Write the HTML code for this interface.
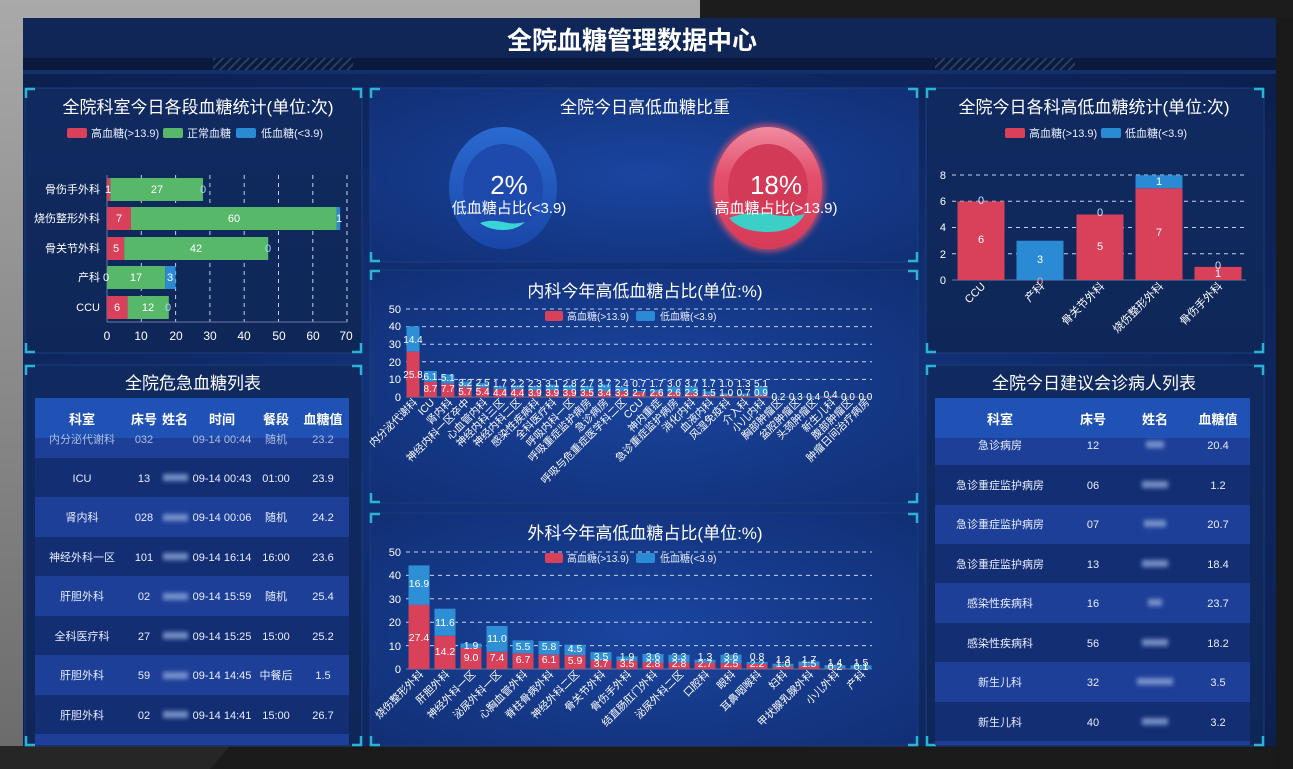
<!DOCTYPE html>
<html><head><meta charset="utf-8"><style>
html,body{margin:0;padding:0;background:#222;}
svg{display:block;font-family:"Liberation Sans","Noto Sans CJK SC",sans-serif;}
</style></head><body>
<svg width="1293" height="769" viewBox="0 0 1293 769" xmlns="http://www.w3.org/2000/svg">
<defs>
<linearGradient id="frame" x1="0" y1="0" x2="0" y2="1"><stop offset="0" stop-color="#a9a9a9"/><stop offset="1" stop-color="#6a6a6a"/></linearGradient>
<radialGradient id="scr" cx="0.5" cy="0.55" r="0.7"><stop offset="0" stop-color="#14388a"/><stop offset="1" stop-color="#0c1f4c"/></radialGradient>
<linearGradient id="pan" x1="0" y1="0" x2="0" y2="1"><stop offset="0" stop-color="#102a60"/><stop offset="1" stop-color="#0f2758"/></linearGradient>
<radialGradient id="mid" cx="0.5" cy="0.5" r="0.7"><stop offset="0" stop-color="#1a45a0"/><stop offset="1" stop-color="#112f74"/></radialGradient>
<linearGradient id="bdon" x1="0" y1="0" x2="0" y2="1"><stop offset="0" stop-color="#2a6ad0"/><stop offset="1" stop-color="#1a46a8"/></linearGradient>
<linearGradient id="rdon" x1="0" y1="0" x2="0" y2="1"><stop offset="0" stop-color="#f08aa0"/><stop offset="0.4" stop-color="#e3506c"/><stop offset="1" stop-color="#d63a58"/></linearGradient>
<filter id="bl"><feGaussianBlur stdDeviation="2"/></filter>
<filter id="gl"><feGaussianBlur stdDeviation="3"/></filter>
<pattern id="hatch" width="6" height="6" patternUnits="userSpaceOnUse" patternTransform="rotate(45)"><rect width="2" height="6" fill="#2a3d66"/></pattern>
</defs>
<!-- frame -->
<rect width="1293" height="769" fill="url(#frame)"/>
<rect x="0" y="746" width="1293" height="23" fill="#262626"/>
<polygon points="210,769 230,746 1293,746 1293,769" fill="#1b1b1b"/>
<rect x="1276" y="14" width="17" height="755" fill="#1a1a1a"/>
<rect x="700" y="0" width="593" height="18" fill="#1c1c1c"/>
<!-- screen -->
<rect x="23" y="18" width="1253" height="728" fill="url(#scr)"/>
<rect x="23" y="18" width="1253" height="40" fill="#0f2656"/>
<rect x="23" y="58" width="1253" height="14" fill="#0b1a3c"/>
<rect x="213" y="58" width="140" height="12" fill="url(#hatch)"/>
<rect x="935" y="58" width="140" height="12" fill="url(#hatch)"/>
<rect x="23" y="70" width="1253" height="4" fill="#12306a"/>
<text x="632" y="49" text-anchor="middle" font-size="25" font-weight="bold" fill="#fff">全院血糖管理数据中心</text>

<!-- panels -->
<g stroke="#1b3d7e" stroke-width="1">
<rect x="25" y="88" width="337" height="265" fill="url(#pan)"/>
<rect x="25" y="365" width="337" height="381" fill="url(#pan)"/>
<rect x="370" y="88" width="548" height="174" fill="url(#mid)"/>
<rect x="370" y="270" width="548" height="233" fill="url(#mid)"/>
<rect x="370" y="513" width="548" height="233" fill="url(#mid)"/>
<rect x="926" y="88" width="338" height="265" fill="url(#pan)"/>
<rect x="926" y="365" width="338" height="381" fill="url(#pan)"/>
</g>
<!-- corner brackets -->
<g stroke="#2ab3d3" stroke-width="2.5" fill="none">
<path d="M26,98 V89 H35 M352,89 H361 V98 M26,343 V352 H35 M352,352 H361 V343"/>
<path d="M26,375 V366 H35 M352,366 H361 V375 M26,736 V745 H35 M352,745 H361 V736"/>
<path d="M371,98 V89 H380 M908,89 H917 V98 M371,252 V261 H380 M908,261 H917 V252"/>
<path d="M371,280 V271 H380 M908,271 H917 V280 M371,493 V502 H380 M908,502 H917 V493"/>
<path d="M371,523 V514 H380 M908,514 H917 V523 M371,736 V745 H380 M908,745 H917 V736"/>
<path d="M927,98 V89 H936 M1254,89 H1263 V98 M927,343 V352 H936 M1254,352 H1263 V343"/>
<path d="M927,375 V366 H936 M1254,366 H1263 V375 M927,736 V745 H936 M1254,745 H1263 V736"/>
</g>

<!-- LEFT CHART 1 -->
<text x="198" y="113" text-anchor="middle" font-size="17" fill="#fff">全院科室今日各段血糖统计(单位:次)</text>
<g font-size="11" fill="#e8eefc">
<rect x="67" y="128" width="20" height="10" rx="2" fill="#d9405a"/><text x="91" y="137">高血糖(&gt;13.9)</text>
<rect x="163" y="128" width="20" height="10" rx="2" fill="#58b86a"/><text x="187" y="137">正常血糖</text>
<rect x="236" y="128" width="20" height="10" rx="2" fill="#2a8ad4"/><text x="261" y="137">低血糖(&lt;3.9)</text>
</g>
<g stroke="#c8d2ea" stroke-dasharray="4,4" stroke-width="1">
<line x1="141.3" y1="175" x2="141.3" y2="322"/><line x1="175.6" y1="175" x2="175.6" y2="322"/><line x1="209.9" y1="175" x2="209.9" y2="322"/><line x1="244.2" y1="175" x2="244.2" y2="322"/><line x1="278.5" y1="175" x2="278.5" y2="322"/><line x1="312.8" y1="175" x2="312.8" y2="322"/><line x1="347" y1="175" x2="347" y2="322"/>
</g>
<line x1="107" y1="322" x2="347" y2="322" stroke="#6c7aa0"/>
<line x1="107" y1="175" x2="107" y2="322" stroke="#6c7aa0"/>
<g>
<rect x="107" y="178" width="3.4" height="23" fill="#d9405a"/><rect x="110.4" y="178" width="92.6" height="23" fill="#58b86a"/>
<rect x="107" y="207" width="24" height="23" fill="#d9405a"/><rect x="131" y="207" width="205.8" height="23" fill="#58b86a"/><rect x="336.8" y="207" width="3.4" height="23" fill="#2a8ad4"/>
<rect x="107" y="237" width="17.2" height="23" fill="#d9405a"/><rect x="124.2" y="237" width="144" height="23" fill="#58b86a"/>
<rect x="107" y="266" width="58.3" height="23" fill="#58b86a"/><rect x="165.3" y="266" width="10.3" height="23" fill="#2a8ad4"/>
<rect x="107" y="296" width="20.6" height="23" fill="#d9405a"/><rect x="127.6" y="296" width="41.2" height="23" fill="#58b86a"/>
</g>
<g font-size="11" fill="#fff" text-anchor="middle">
<text x="108" y="193">1</text><text x="157" y="193">27</text><text x="203" y="193" fill="#a8d8ff">0</text>
<text x="119" y="222">7</text><text x="234" y="222">60</text><text x="339" y="222">1</text>
<text x="116" y="252">5</text><text x="196" y="252">42</text><text x="268" y="252" fill="#a8d8ff">0</text>
<text x="106" y="281">0</text><text x="136" y="281">17</text><text x="170" y="281">3</text>
<text x="117" y="311">6</text><text x="148" y="311">12</text><text x="168" y="311" fill="#a8d8ff">0</text>
</g>
<g font-size="11" fill="#fff" text-anchor="end">
<text x="100" y="193">骨伤手外科</text><text x="100" y="222">烧伤整形外科</text><text x="100" y="252">骨关节外科</text><text x="100" y="281">产科</text><text x="100" y="311">CCU</text>
</g>
<g font-size="12" fill="#fff" text-anchor="middle">
<text x="107" y="340">0</text><text x="141" y="340">10</text><text x="176" y="340">20</text><text x="210" y="340">30</text><text x="244" y="340">40</text><text x="279" y="340">50</text><text x="313" y="340">60</text><text x="346" y="340">70</text>
</g>

<!-- LEFT TABLE -->
<text x="193" y="389" text-anchor="middle" font-size="17" fill="#fff">全院危急血糖列表</text>
<rect x="35" y="398" width="314" height="40" fill="#1f52b4"/>
<rect x="35" y="438" width="314" height="20" fill="#1d3f98"/>
<rect x="35" y="458" width="314" height="39" fill="#142e74"/>
<rect x="35" y="497" width="314" height="40" fill="#1d3f98"/>
<rect x="35" y="537" width="314" height="39" fill="#142e74"/>
<rect x="35" y="576" width="314" height="40" fill="#1d3f98"/>
<rect x="35" y="616" width="314" height="39" fill="#142e74"/>
<rect x="35" y="655" width="314" height="40" fill="#1d3f98"/>
<rect x="35" y="695" width="314" height="39" fill="#142e74"/>
<rect x="35" y="734" width="314" height="11" fill="#1d3f98"/>
<g font-size="13" font-weight="bold" fill="#fff" text-anchor="middle">
<text x="82" y="424">科室</text><text x="144" y="424">床号</text><text x="175" y="424">姓名</text><text x="222" y="424">时间</text><text x="276" y="424">餐段</text><text x="323" y="424">血糖值</text>
</g>
<g font-size="11" fill="#e8eefc" text-anchor="middle">
<text x="82" y="443" opacity="0.7">内分泌代谢科</text><text x="144" y="443" opacity="0.7">032</text><text x="222" y="443" opacity="0.7">09-14 00:44</text><text x="276" y="443" opacity="0.7">随机</text><text x="323" y="443" opacity="0.7">23.2</text>
<text x="82" y="482">ICU</text><text x="144" y="482">13</text><text x="222" y="482">09-14 00:43</text><text x="276" y="482">01:00</text><text x="323" y="482">23.9</text>
<text x="82" y="521">肾内科</text><text x="144" y="521">028</text><text x="222" y="521">09-14 00:06</text><text x="276" y="521">随机</text><text x="323" y="521">24.2</text>
<text x="82" y="561">神经外科一区</text><text x="144" y="561">101</text><text x="222" y="561">09-14 16:14</text><text x="276" y="561">16:00</text><text x="323" y="561">23.6</text>
<text x="82" y="600">肝胆外科</text><text x="144" y="600">02</text><text x="222" y="600">09-14 15:59</text><text x="276" y="600">随机</text><text x="323" y="600">25.4</text>
<text x="82" y="640">全科医疗科</text><text x="144" y="640">27</text><text x="222" y="640">09-14 15:25</text><text x="276" y="640">15:00</text><text x="323" y="640">25.2</text>
<text x="82" y="679">肝胆外科</text><text x="144" y="679">59</text><text x="222" y="679">09-14 14:45</text><text x="276" y="679">中餐后</text><text x="323" y="679">1.5</text>
<text x="82" y="719">肝胆外科</text><text x="144" y="719">02</text><text x="222" y="719">09-14 14:41</text><text x="276" y="719">15:00</text><text x="323" y="719">26.7</text>
</g>
<g fill="#8ea6d8" filter="url(#bl)" opacity="0.8">
<rect x="163" y="474" width="25" height="7"/><rect x="163" y="514" width="25" height="7"/><rect x="163" y="553" width="25" height="7"/><rect x="163" y="593" width="25" height="7"/><rect x="163" y="632" width="25" height="7"/><rect x="163" y="672" width="25" height="7"/><rect x="163" y="711" width="25" height="7"/>
</g>

<!-- DONUTS -->
<text x="645" y="113" text-anchor="middle" font-size="17" fill="#fff">全院今日高低血糖比重</text>
<ellipse cx="503" cy="188" rx="54" ry="61" fill="url(#bdon)"/>
<ellipse cx="503" cy="188" rx="40" ry="44" fill="#1d4aac"/>
<path d="M480,223 q10,-4 23,-1 q12,3 22,0 q-8,8 -22,8 q-14,0 -23,-7z" fill="#3ad3d8"/>
<text x="509" y="194" text-anchor="middle" font-size="26" fill="#fff">2%</text>
<text x="509" y="213" text-anchor="middle" font-size="15" fill="#fff">低血糖占比(&lt;3.9)</text>
<ellipse cx="768" cy="188" rx="57" ry="64" fill="#e5556f" filter="url(#gl)" opacity="0.7"/>
<ellipse cx="768" cy="188" rx="54" ry="61" fill="url(#rdon)"/>
<ellipse cx="768" cy="188" rx="40" ry="44" fill="#d23a58"/>
<path d="M729,218 q20,-8 40,-4 q20,4 36,0 q-10,18 -37,18 q-27,0 -39,-14z" fill="#3ccfc8"/>
<text x="776" y="194" text-anchor="middle" font-size="26" fill="#fff">18%</text>
<text x="776" y="213" text-anchor="middle" font-size="15" fill="#fff">高血糖占比(&gt;13.9)</text>

<!-- 内科 CHART -->
<text x="645" y="297" text-anchor="middle" font-size="17" fill="#fff">内科今年高低血糖占比(单位:%)</text>
<g font-size="10" fill="#e8eefc">
<rect x="545" y="311" width="18" height="10" rx="2" fill="#d9405a"/><text x="567" y="320">高血糖(&gt;13.9)</text>
<rect x="636" y="311" width="19" height="10" rx="2" fill="#2a8ad4"/><text x="660" y="320">低血糖(&lt;3.9)</text>
</g>
<g stroke="#c8d2ea" stroke-dasharray="4,4" stroke-width="1">
<line x1="406" y1="309" x2="872" y2="309"/><line x1="406" y1="326.6" x2="872" y2="326.6"/><line x1="406" y1="344.2" x2="872" y2="344.2"/><line x1="406" y1="361.8" x2="872" y2="361.8"/><line x1="406" y1="379.4" x2="872" y2="379.4"/>
</g>
<line x1="406" y1="397" x2="872" y2="397" stroke="#6c7aa0"/>
<g font-size="11" fill="#fff" text-anchor="end">
<text x="401" y="313">50</text><text x="401" y="330">40</text><text x="401" y="348">30</text><text x="401" y="366">20</text><text x="401" y="383">10</text><text x="401" y="401">0</text>
</g>
<g fill="#d9405a">
<rect x="406.5" y="351.6" width="13" height="45.4"/><rect x="423.9" y="381.7" width="13" height="15.3"/><rect x="441.3" y="383.4" width="13" height="13.6"/><rect x="458.7" y="387" width="13" height="10"/><rect x="476.1" y="387.5" width="13" height="9.5"/><rect x="493.5" y="389.3" width="13" height="7.7"/><rect x="510.9" y="389.3" width="13" height="7.7"/><rect x="528.3" y="390.1" width="13" height="6.9"/><rect x="545.7" y="390.1" width="13" height="6.9"/><rect x="563.1" y="390.1" width="13" height="6.9"/><rect x="580.5" y="390.8" width="13" height="6.2"/><rect x="597.9" y="391" width="13" height="6"/><rect x="615.3" y="391.2" width="13" height="5.8"/><rect x="632.7" y="392.2" width="13" height="4.8"/><rect x="650.1" y="392.4" width="13" height="4.6"/><rect x="667.5" y="392.4" width="13" height="4.6"/><rect x="684.9" y="393" width="13" height="4"/><rect x="702.3" y="394.4" width="13" height="2.6"/><rect x="719.7" y="395.2" width="13" height="1.8"/><rect x="737.1" y="395.8" width="13" height="1.2"/><rect x="754.5" y="395.4" width="13" height="1.6"/><rect x="824.1" y="396.3" width="13" height="0.7"/>
</g>
<g fill="#2f8fd6">
<rect x="406.5" y="326.3" width="13" height="25.3"/><rect x="423.9" y="371" width="13" height="10.7"/><rect x="441.3" y="374.4" width="13" height="9"/><rect x="458.7" y="381.4" width="13" height="5.6"/><rect x="476.1" y="383.1" width="13" height="4.4"/><rect x="493.5" y="386.3" width="13" height="3"/><rect x="510.9" y="385.4" width="13" height="3.9"/><rect x="528.3" y="386.1" width="13" height="4"/><rect x="545.7" y="384.6" width="13" height="5.5"/><rect x="563.1" y="385.2" width="13" height="4.9"/><rect x="580.5" y="386" width="13" height="4.8"/><rect x="597.9" y="384.5" width="13" height="6.5"/><rect x="615.3" y="387" width="13" height="4.2"/><rect x="632.7" y="391" width="13" height="1.2"/><rect x="650.1" y="389.4" width="13" height="3"/><rect x="667.5" y="387.1" width="13" height="5.3"/><rect x="684.9" y="386.5" width="13" height="6.5"/><rect x="702.3" y="391.4" width="13" height="3"/><rect x="719.7" y="393.4" width="13" height="1.8"/><rect x="737.1" y="393.5" width="13" height="2.3"/><rect x="754.5" y="386.4" width="13" height="9"/><rect x="771.9" y="396.6" width="13" height="0.4"/><rect x="789.3" y="396.5" width="13" height="0.5"/><rect x="806.7" y="396.3" width="13" height="0.7"/><rect x="824.1" y="395.6" width="13" height="0.7"/>
</g>
<g font-size="10" fill="#fff" text-anchor="middle">
<text x="413" y="378">25.8</text><text x="413" y="343">14.4</text>
<text x="430.4" y="392">8.7</text><text x="430.4" y="380">6.1</text>
<text x="447.8" y="392">7.7</text><text x="447.8" y="381">5.1</text>
<text x="465.2" y="395">5.7</text><text x="465.2" y="386">3.2</text>
<text x="482.6" y="395">5.4</text><text x="482.6" y="386">2.5</text>
<text x="500" y="396">4.4</text><text x="500" y="387">1.7</text>
<text x="517.4" y="396">4.4</text><text x="517.4" y="387">2.2</text>
<text x="534.8" y="396">3.9</text><text x="534.8" y="387">2.3</text>
<text x="552.2" y="396">3.9</text><text x="552.2" y="387">3.1</text>
<text x="569.6" y="396">3.9</text><text x="569.6" y="387">2.8</text>
<text x="587" y="396">3.5</text><text x="587" y="387">2.7</text>
<text x="604.4" y="396">3.4</text><text x="604.4" y="387">3.7</text>
<text x="621.8" y="396">3.3</text><text x="621.8" y="387">2.4</text>
<text x="639.2" y="396">2.7</text><text x="639.2" y="387">0.7</text>
<text x="656.6" y="396">2.6</text><text x="656.6" y="387">1.7</text>
<text x="674" y="396">2.6</text><text x="674" y="387">3.0</text>
<text x="691.4" y="396">2.3</text><text x="691.4" y="387">3.7</text>
<text x="708.8" y="396">1.5</text><text x="708.8" y="387">1.7</text>
<text x="726.2" y="396">1.0</text><text x="726.2" y="387">1.0</text>
<text x="743.6" y="396">0.7</text><text x="743.6" y="387">1.3</text>
<text x="761" y="396">0.9</text><text x="761" y="387">5.1</text>
<text x="778.4" y="400">0.2</text><text x="795.8" y="400">0.3</text><text x="813.2" y="400">0.4</text><text x="830.6" y="398">0.4</text><text x="848" y="400">0.0</text><text x="865.4" y="400">0.0</text>
</g>
<g font-size="10.5" fill="#fff" text-anchor="end">
<text transform="translate(418,403) rotate(-45)">内分泌代谢科</text>
<text transform="translate(435,403) rotate(-45)">ICU</text>
<text transform="translate(453,403) rotate(-45)">肾内科</text>
<text transform="translate(470,403) rotate(-45)">神经内科一区卒中</text>
<text transform="translate(488,403) rotate(-45)">心血管内科</text>
<text transform="translate(505,403) rotate(-45)">神经内科三区</text>
<text transform="translate(522,403) rotate(-45)">神经内科二区</text>
<text transform="translate(540,403) rotate(-45)">感染性疾病科</text>
<text transform="translate(557,403) rotate(-45)">全科医疗科</text>
<text transform="translate(575,403) rotate(-45)">呼吸内科一区</text>
<text transform="translate(592,403) rotate(-45)">呼吸重症监护病房</text>
<text transform="translate(609,403) rotate(-45)">急诊病房</text>
<text transform="translate(627,403) rotate(-45)">呼吸与危重症医学科二区</text>
<text transform="translate(644,403) rotate(-45)">CCU</text>
<text transform="translate(662,403) rotate(-45)">神内重症</text>
<text transform="translate(679,403) rotate(-45)">急诊重症监护病房</text>
<text transform="translate(696,403) rotate(-45)">消化内科</text>
<text transform="translate(714,403) rotate(-45)">血液内科</text>
<text transform="translate(731,403) rotate(-45)">风湿免疫科</text>
<text transform="translate(749,403) rotate(-45)">介入科</text>
<text transform="translate(766,403) rotate(-45)">小儿内科</text>
<text transform="translate(783,403) rotate(-45)">胸部肿瘤区</text>
<text transform="translate(801,403) rotate(-45)">盆腔肿瘤区</text>
<text transform="translate(818,403) rotate(-45)">头颈肿瘤区</text>
<text transform="translate(836,403) rotate(-45)">新生儿科</text>
<text transform="translate(853,403) rotate(-45)">腹部肿瘤区</text>
<text transform="translate(870,403) rotate(-45)">肿瘤日间治疗病房</text>
</g>

<!-- 外科 CHART -->
<text x="645" y="539" text-anchor="middle" font-size="17" fill="#fff">外科今年高低血糖占比(单位:%)</text>
<g font-size="10" fill="#e8eefc">
<rect x="545" y="553" width="18" height="10" rx="2" fill="#d9405a"/><text x="567" y="562">高血糖(&gt;13.9)</text>
<rect x="636" y="553" width="19" height="10" rx="2" fill="#2a8ad4"/><text x="660" y="562">低血糖(&lt;3.9)</text>
</g>
<g stroke="#c8d2ea" stroke-dasharray="4,4" stroke-width="1">
<line x1="406" y1="552" x2="872" y2="552"/><line x1="406" y1="575.4" x2="872" y2="575.4"/><line x1="406" y1="598.8" x2="872" y2="598.8"/><line x1="406" y1="622.2" x2="872" y2="622.2"/><line x1="406" y1="645.6" x2="872" y2="645.6"/>
</g>
<line x1="406" y1="669" x2="872" y2="669" stroke="#6c7aa0"/>
<g font-size="11" fill="#fff" text-anchor="end">
<text x="401" y="556">50</text><text x="401" y="579">40</text><text x="401" y="603">30</text><text x="401" y="626">20</text><text x="401" y="650">10</text><text x="401" y="673">0</text>
</g>
<g fill="#d9405a">
<rect x="408.5" y="604.9" width="21" height="64.1"/><rect x="434.5" y="635.8" width="21" height="33.2"/><rect x="460.5" y="647.9" width="21" height="21.1"/><rect x="486.5" y="651.7" width="21" height="17.3"/><rect x="512.5" y="653.3" width="21" height="15.7"/><rect x="538.5" y="654.7" width="21" height="14.3"/><rect x="564.5" y="655.2" width="21" height="13.8"/><rect x="590.5" y="660.3" width="21" height="8.7"/><rect x="616.5" y="660.8" width="21" height="8.2"/><rect x="642.5" y="662.4" width="21" height="6.6"/><rect x="668.5" y="662.4" width="21" height="6.6"/><rect x="694.5" y="662.7" width="21" height="6.3"/><rect x="720.5" y="663.1" width="21" height="5.9"/><rect x="746.5" y="663.9" width="21" height="5.1"/><rect x="772.5" y="666.7" width="21" height="2.3"/><rect x="798.5" y="665.5" width="21" height="3.5"/><rect x="824.5" y="668.5" width="21" height="0.5"/>
</g>
<g fill="#2f8fd6">
<rect x="408.5" y="565.4" width="21" height="39.5"/><rect x="434.5" y="608.7" width="21" height="27.1"/><rect x="460.5" y="643.5" width="21" height="4.4"/><rect x="486.5" y="626" width="21" height="25.7"/><rect x="512.5" y="640.4" width="21" height="12.9"/><rect x="538.5" y="641.1" width="21" height="13.6"/><rect x="564.5" y="644.7" width="21" height="10.5"/><rect x="590.5" y="652.1" width="21" height="8.2"/><rect x="616.5" y="656.4" width="21" height="4.4"/><rect x="642.5" y="654" width="21" height="8.4"/><rect x="668.5" y="654.7" width="21" height="7.7"/><rect x="694.5" y="659.7" width="21" height="3"/><rect x="720.5" y="654.7" width="21" height="8.4"/><rect x="746.5" y="662" width="21" height="1.9"/><rect x="772.5" y="663.7" width="21" height="3"/><rect x="798.5" y="661.5" width="21" height="4"/><rect x="824.5" y="665.2" width="21" height="3.3"/><rect x="850.5" y="665.3" width="21" height="3.5"/>
</g>
<g font-size="10.5" fill="#fff" text-anchor="middle">
<text x="419" y="641">27.4</text><text x="419" y="587">16.9</text>
<text x="445" y="655">14.2</text><text x="445" y="626">11.6</text>
<text x="471" y="661">9.0</text><text x="471" y="649">1.9</text>
<text x="497" y="661">7.4</text><text x="497" y="642">11.0</text>
<text x="523" y="663">6.7</text><text x="523" y="650">5.5</text>
<text x="549" y="663">6.1</text><text x="549" y="650">5.8</text>
<text x="575" y="664">5.9</text><text x="575" y="652">4.5</text>
<text x="601" y="667">3.7</text><text x="601" y="660">3.5</text>
<text x="627" y="667">3.5</text><text x="627" y="660">1.9</text>
<text x="653" y="667">2.8</text><text x="653" y="660">3.6</text>
<text x="679" y="667">2.8</text><text x="679" y="660">3.3</text>
<text x="705" y="667">2.7</text><text x="705" y="660">1.3</text>
<text x="731" y="667">2.5</text><text x="731" y="660">3.6</text>
<text x="757" y="667">2.2</text><text x="757" y="660">0.8</text>
<text x="783" y="667">1.0</text><text x="783" y="663">1.3</text>
<text x="809" y="667">1.5</text><text x="809" y="663">1.7</text>
<text x="835" y="670">0.2</text><text x="835" y="666">1.4</text>
<text x="861" y="670">0.1</text><text x="861" y="666">1.5</text>
</g>
<g font-size="10.5" fill="#fff" text-anchor="end">
<text transform="translate(424,675) rotate(-45)">烧伤整形外科</text>
<text transform="translate(450,675) rotate(-45)">肝胆外科</text>
<text transform="translate(476,675) rotate(-45)">神经外科一区</text>
<text transform="translate(502,675) rotate(-45)">泌尿外科一区</text>
<text transform="translate(528,675) rotate(-45)">心胸血管外科</text>
<text transform="translate(554,675) rotate(-45)">脊柱骨病外科</text>
<text transform="translate(580,675) rotate(-45)">神经外科二区</text>
<text transform="translate(606,675) rotate(-45)">骨关节外科</text>
<text transform="translate(632,675) rotate(-45)">骨伤手外科</text>
<text transform="translate(658,675) rotate(-45)">结直肠肛门外科</text>
<text transform="translate(684,675) rotate(-45)">泌尿外科二区</text>
<text transform="translate(710,675) rotate(-45)">口腔科</text>
<text transform="translate(736,675) rotate(-45)">眼科</text>
<text transform="translate(762,675) rotate(-45)">耳鼻咽喉科</text>
<text transform="translate(788,675) rotate(-45)">妇科</text>
<text transform="translate(814,675) rotate(-45)">甲状腺乳腺外科</text>
<text transform="translate(840,675) rotate(-45)">小儿外科</text>
<text transform="translate(866,675) rotate(-45)">产科</text>
</g>

<!-- RIGHT CHART -->
<text x="1094" y="113" text-anchor="middle" font-size="17" fill="#fff">全院今日各科高低血糖统计(单位:次)</text>
<g font-size="11" fill="#e8eefc">
<rect x="1005" y="128" width="20" height="10" rx="2" fill="#d9405a"/><text x="1029" y="137">高血糖(&gt;13.9)</text>
<rect x="1101" y="128" width="20" height="10" rx="2" fill="#2a8ad4"/><text x="1125" y="137">低血糖(&lt;3.9)</text>
</g>
<g stroke="#c8d2ea" stroke-dasharray="4,4" stroke-width="1">
<line x1="952" y1="175" x2="1246" y2="175"/><line x1="952" y1="201.3" x2="1246" y2="201.3"/><line x1="952" y1="227.5" x2="1246" y2="227.5"/><line x1="952" y1="253.8" x2="1246" y2="253.8"/>
</g>
<line x1="952" y1="280" x2="1246" y2="280" stroke="#6c7aa0"/>
<g font-size="11" fill="#fff" text-anchor="end">
<text x="946" y="179">8</text><text x="946" y="205">6</text><text x="946" y="231">4</text><text x="946" y="258">2</text><text x="946" y="284">0</text>
</g>
<rect x="957.5" y="201.4" width="47" height="78.6" fill="#d9405a"/>
<rect x="1016.5" y="240.7" width="47" height="39.3" fill="#2a8ad4"/>
<rect x="1076.5" y="214.5" width="47" height="65.5" fill="#d9405a"/>
<rect x="1135.5" y="188.3" width="47" height="91.7" fill="#d9405a"/>
<rect x="1135.5" y="175.2" width="47" height="13.1" fill="#2a8ad4"/>
<rect x="1194.5" y="266.9" width="47" height="13.1" fill="#d9405a"/>
<g font-size="11" fill="#fff" text-anchor="middle">
<text x="981" y="243">6</text><text x="981" y="204" fill="#cfe6ff">0</text>
<text x="1040" y="263">3</text><text x="1040" y="285" fill="#f6a0b0">0</text>
<text x="1100" y="250">5</text><text x="1100" y="216" fill="#cfe6ff">0</text>
<text x="1159" y="236">7</text><text x="1159" y="185">1</text>
<text x="1218" y="277">1</text><text x="1218" y="269" fill="#cfe6ff">0</text>
</g>
<g font-size="11" fill="#fff" text-anchor="end">
<text transform="translate(986,287) rotate(-45)">CCU</text>
<text transform="translate(1045,287) rotate(-45)">产科</text>
<text transform="translate(1105,287) rotate(-45)">骨关节外科</text>
<text transform="translate(1164,287) rotate(-45)">烧伤整形外科</text>
<text transform="translate(1223,287) rotate(-45)">骨伤手外科</text>
</g>

<!-- RIGHT TABLE -->
<text x="1094" y="389" text-anchor="middle" font-size="17" fill="#fff">全院今日建议会诊病人列表</text>
<rect x="935" y="398" width="315" height="40" fill="#1f52b4"/>
<rect x="935" y="438" width="315" height="27" fill="#1d3f98"/>
<rect x="935" y="465" width="315" height="40" fill="#142e74"/>
<rect x="935" y="505" width="315" height="39" fill="#1d3f98"/>
<rect x="935" y="544" width="315" height="39" fill="#142e74"/>
<rect x="935" y="583" width="315" height="40" fill="#1d3f98"/>
<rect x="935" y="623" width="315" height="39" fill="#142e74"/>
<rect x="935" y="662" width="315" height="40" fill="#1d3f98"/>
<rect x="935" y="702" width="315" height="39" fill="#142e74"/>
<rect x="935" y="741" width="315" height="4" fill="#1d3f98"/>
<g font-size="13" font-weight="bold" fill="#fff" text-anchor="middle">
<text x="1000" y="424">科室</text><text x="1093" y="424">床号</text><text x="1155" y="424">姓名</text><text x="1218" y="424">血糖值</text>
</g>
<g font-size="11" fill="#e8eefc" text-anchor="middle">
<text x="1000" y="449">急诊病房</text><text x="1093" y="449">12</text><text x="1218" y="449">20.4</text>
<text x="1000" y="489">急诊重症监护病房</text><text x="1093" y="489">06</text><text x="1218" y="489">1.2</text>
<text x="1000" y="528">急诊重症监护病房</text><text x="1093" y="528">07</text><text x="1218" y="528">20.7</text>
<text x="1000" y="568">急诊重症监护病房</text><text x="1093" y="568">13</text><text x="1218" y="568">18.4</text>
<text x="1000" y="607">感染性疾病科</text><text x="1093" y="607">16</text><text x="1218" y="607">23.7</text>
<text x="1000" y="647">感染性疾病科</text><text x="1093" y="647">56</text><text x="1218" y="647">18.2</text>
<text x="1000" y="686">新生儿科</text><text x="1093" y="686">32</text><text x="1218" y="686">3.5</text>
<text x="1000" y="726">新生儿科</text><text x="1093" y="726">40</text><text x="1218" y="726">3.2</text>
</g>
<g fill="#8ea6d8" filter="url(#bl)" opacity="0.8">
<rect x="1146" y="441" width="18" height="7"/><rect x="1142" y="481" width="26" height="7"/><rect x="1144" y="520" width="22" height="7"/><rect x="1142" y="560" width="26" height="7"/><rect x="1148" y="599" width="14" height="7"/><rect x="1142" y="639" width="26" height="7"/><rect x="1137" y="678" width="36" height="7"/><rect x="1142" y="718" width="26" height="7"/>
</g>
</svg>
</body></html>
